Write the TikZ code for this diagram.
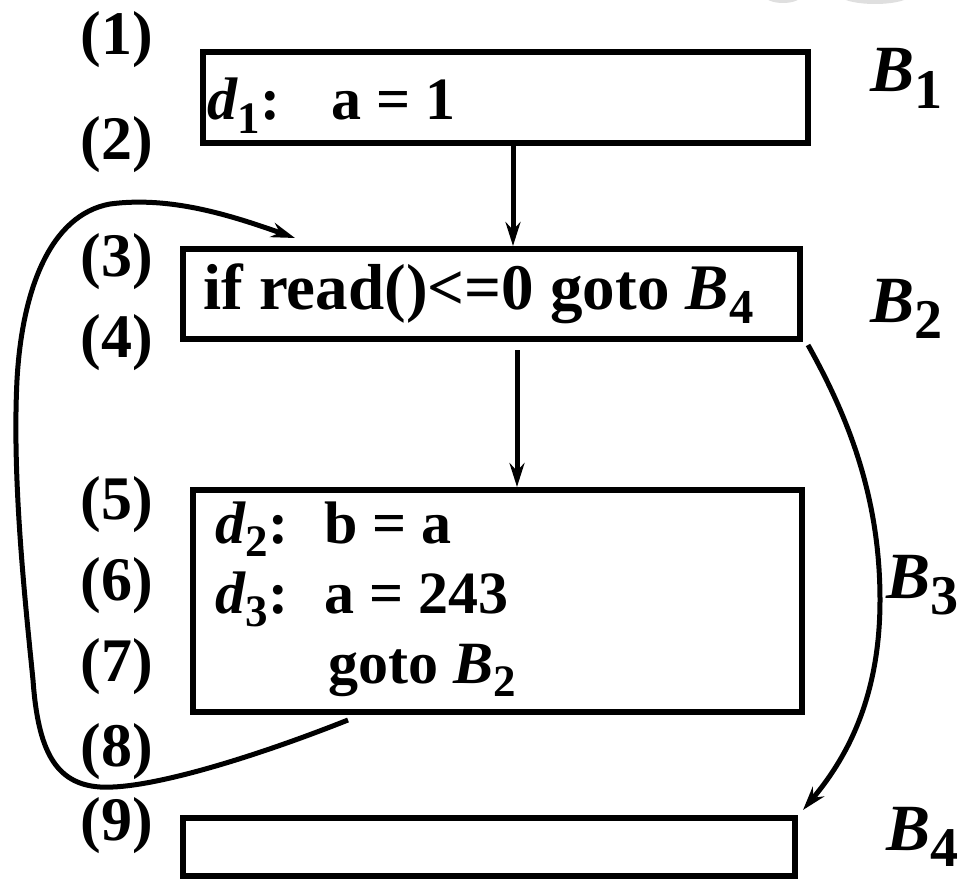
\documentclass[tikz,border=0pt]{standalone}
\usepackage{fontspec}
\usepackage{graphicx}
\setmainfont{Liberation Serif}
\usetikzlibrary{arrows.meta,calc}
\newcommand\sbs[1]{\raisebox{-0.22em}{\scalebox{0.75}{#1}}}
\newcommand\sbl[1]{\raisebox{-0.25em}{\scalebox{0.85}{#1}}}
\begin{document}
\begin{tikzpicture}[x=1pt,y=-1pt,
  blk/.style={draw=black, line width=6pt, minimum width=#1, inner sep=0pt},
  code/.style={anchor=base west, inner sep=0pt, font=\fontsize{60}{64}\selectfont\bfseries},
  codebig/.style={anchor=base west, inner sep=0pt, font=\fontsize{65}{70}\selectfont\bfseries},
  lnum/.style={anchor=base, inner sep=0pt, font=\fontsize{62}{64}\selectfont\bfseries},
  blab/.style={anchor=base west, inner sep=0pt, font=\fontsize{66}{70}\selectfont\bfseries\itshape},
  arr/.style={line width=5pt, -{Stealth[length=24pt, width=15pt, inset=8pt]}},
  shadowblob/.style={fill=gray!25, draw=none}]
\useasboundingbox (0,0) rectangle (966,880);
% faint shadow at the top edge
\fill[shadowblob] (783,-5) ellipse [x radius=19, y radius=8];
\fill[shadowblob] (875,-7) ellipse [x radius=38, y radius=11];
% blocks
\node[blk=605pt, minimum height=91pt] (b1) at (505.5,97.5) {};
\node[blk=617pt, minimum height=90pt] (b2) at (491.5,294) {};
\node[blk=609pt, minimum height=222pt] (b3) at (497.5,601) {};
\node[blk=612pt, minimum height=58pt] (b4) at (489,847) {};
% code
\node[code] (t1) at (207,120) {\textit{d}\sbs{1}:\hspace{0.85em}a = 1};
\node[codebig] (t2) at (203,309) {if read()<=0 goto \textit{B}\sbs{4}};
\node[code] (t3) at (215,543) {\textit{d}\sbs{2}:\hspace{0.6em}b = a};
\node[code] (t4) at (215,613) {\textit{d}\sbs{3}:\hspace{0.6em}a = 243};
\node[code] (t5) at (328,683) {goto \textit{B}\sbs{2}};
% line numbers
\node[lnum] (n1) at (117,55) {(1)};
\node[lnum] (n2) at (117,160) {(2)};
\node[lnum] (n3) at (117,276) {(3)};
\node[lnum] (n4) at (117,357) {(4)};
\node[lnum] (n5) at (117,519) {(5)};
\node[lnum] (n6) at (117,600) {(6)};
\node[lnum] (n7) at (117,681) {(7)};
\node[lnum] (n8) at (117,766) {(8)};
\node[lnum] (n9) at (117,840) {(9)};
% block labels
\node[blab] (l1) at (870,92) {B\sbl{\upshape 1}};
\node[blab] (l2) at (870,322) {B\sbl{\upshape 2}};
\node[blab] (l3) at (886,598) {B\sbl{\upshape 3}};
\node[blab] (l4) at (886,850) {B\sbl{\upshape 4}};
% connectors
\draw[arr] ([xshift=7.5pt]b1.south) -- ([xshift=21.5pt]b2.north);
\draw[arr] ([xshift=25.5pt,yshift=-8pt]b2.south) -- ([xshift=19.5pt]b3.north);
\draw[arr] ([shift={(5pt,-3pt)}]b2.south east)
  .. controls (850,420) and (880,500) .. (880,600)
  .. controls (880,700) and (845,760) .. ([shift={(5pt,5pt)}]b4.north east);
\draw[arr] ([shift={(-149.5pt,-5pt)}]b3.south)
  .. controls (260,755) and (150,790) .. (100,787)
  .. controls (55,784) and (38,750) .. (33,680)
  .. controls (25,600) and (12,480) .. (17,380)
  .. controls (22,290) and (50,215) .. (110,204)
  .. controls (170,196) and (230,215) .. ([shift={(115pt,8pt)}]b2.north west);
\end{tikzpicture}
\end{document}
